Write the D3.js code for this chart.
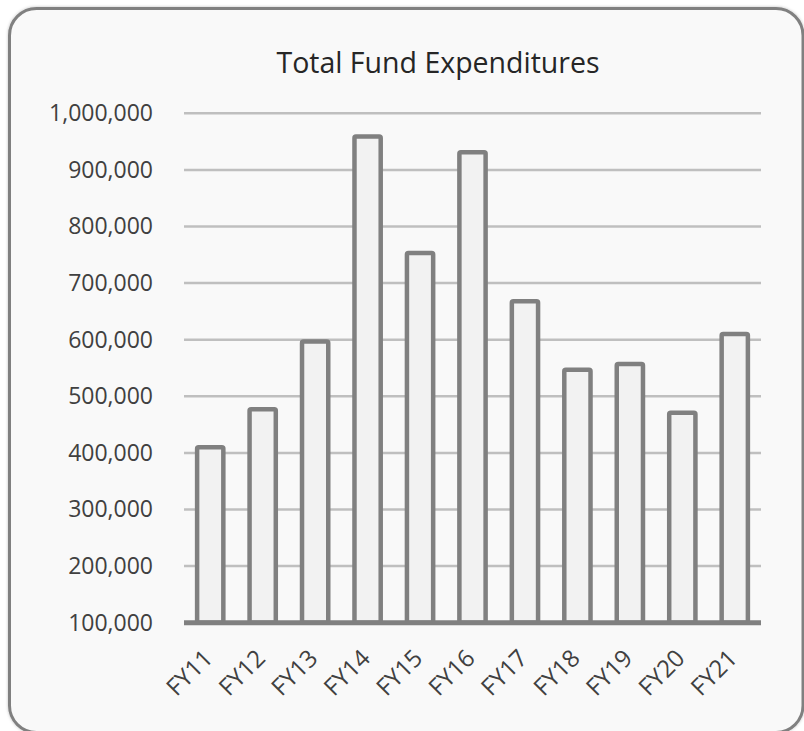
<!DOCTYPE html>
<html>
<head>
<meta charset="utf-8">
<script src="https://cdn.jsdelivr.net/npm/d3@7"></script>
<style>
  html, body { margin: 0; padding: 0; background: #ffffff; }
  svg { display: block; }
  text { font-family: "Open Sans", "Noto Sans", sans-serif; }
</style>
</head>
<body>
<svg id="chart" width="804" height="731"></svg>
<script>
const categories = ["FY11","FY12","FY13","FY14","FY15","FY16","FY17","FY18","FY19","FY20","FY21"];
const values = [410000, 477000, 597000, 959000, 753000, 931000, 668000, 547000, 557000, 471000, 610000];
const yTicks = [100000, 200000, 300000, 400000, 500000, 600000, 700000, 800000, 900000, 1000000];
const titleText = "Total Fund Expenditures";

const svg = d3.select("#chart");
const defs = svg.append("defs");
const f = defs.append("filter").attr("id", "sh").attr("x", "-5%").attr("y", "-5%").attr("width", "110%").attr("height", "110%");
f.append("feDropShadow").attr("dx", 0).attr("dy", 0).attr("stdDeviation", 1.5).attr("flood-color", "#000").attr("flood-opacity", 0.25);

// chart area
svg.append("rect")
  .attr("x", 9.5).attr("y", 8.5)
  .attr("width", 793.5).attr("height", 724)
  .attr("rx", 27).attr("ry", 27)
  .attr("fill", "#f9f9f9")
  .attr("stroke", "#808080")
  .attr("stroke-width", 3)
  .attr("filter", "url(#sh)");

const x = d3.scaleBand().domain(categories).range([184, 761]).paddingInner(0.5).paddingOuter(0.25);
const y = d3.scaleLinear().domain([100000, 1000000]).range([622.7, 113.3]);

// gridlines
svg.append("g").selectAll("line").data(yTicks.filter(d => d !== 100000)).join("line")
  .attr("x1", 184).attr("x2", 761)
  .attr("y1", d => y(d)).attr("y2", d => y(d))
  .attr("stroke", "#bfbfbf").attr("stroke-width", 2.5);

// y axis labels
const yAxis = d3.axisLeft(y).tickValues(yTicks).tickSize(0).tickPadding(0)
  .tickFormat(d3.format(","));
const gy = svg.append("g").attr("transform", "translate(153,0)").call(yAxis);
gy.select(".domain").remove();
gy.selectAll("text")
  .attr("fill", "#404040")
  .style("font-size", "23px")
  .style("font-family", "'Open Sans', sans-serif");

// bars
svg.append("g").selectAll("rect").data(categories).join("rect")
  .attr("x", d => x(d))
  .attr("width", x.bandwidth())
  .attr("y", (d, i) => y(values[i]))
  .attr("height", (d, i) => y(100000) - y(values[i]))
  .attr("rx", 1.5)
  .attr("fill", "#f2f2f2")
  .attr("stroke", "#808080")
  .attr("stroke-width", 4.5);

// x axis line
svg.append("line")
  .attr("x1", 184).attr("x2", 761)
  .attr("y1", y(100000)).attr("y2", y(100000))
  .attr("stroke", "#808080").attr("stroke-width", 5);

// x labels
svg.append("g").selectAll("text").data(categories).join("text")
  .attr("transform", d => `translate(${x(d) + x.bandwidth() / 2 + 4},${y(100000) + 37}) rotate(-45)`)
  .attr("text-anchor", "end")
  .attr("fill", "#404040")
  .style("font-size", "24px")
  .text(d => d);

// title
svg.append("text")
  .attr("x", 438).attr("y", 73)
  .attr("text-anchor", "middle")
  .attr("fill", "#262626")
  .style("font-size", "28.5px")
  .text(titleText);
</script>
</body>
</html>
